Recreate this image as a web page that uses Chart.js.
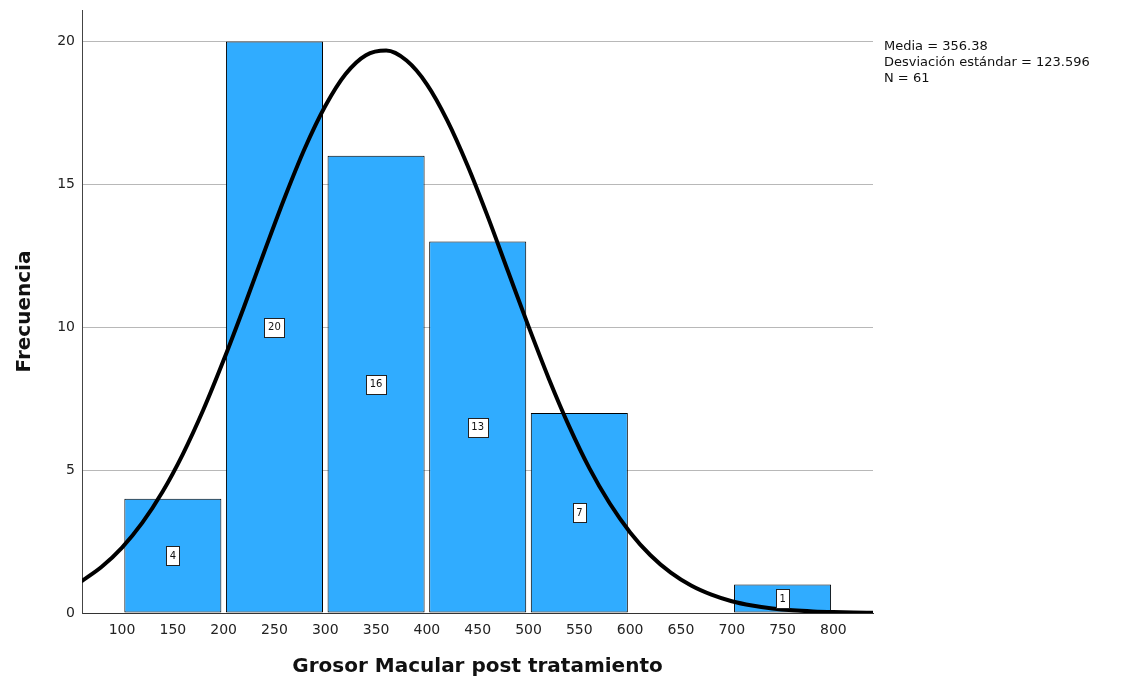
<!DOCTYPE html>
<html>
<head>
<meta charset="utf-8">
<script src="https://cdn.jsdelivr.net/npm/chart.js@4"></script>
<style>
  html, body { margin: 0; padding: 0; background: #fff; }
  #wrap { width: 1123px; height: 685px; }
</style>
</head>
<body>
<div id="wrap"><canvas id="histChart" width="1123" height="685"></canvas></div>
<script>
// Datos del histograma (centro de cada intervalo y frecuencia)
const binCenters = [150, 250, 350, 450, 550, 650, 750];
const frecuencias = [4, 20, 16, 13, 7, 0, 1];

// Curva normal
const curvaX = [60, 80, 100, 120, 140, 160, 180, 200, 220, 240, 260, 280, 300, 320, 340, 360, 380, 400,
  420, 440, 460, 480, 500, 520, 540, 560, 580, 600, 620, 640, 660, 680, 700, 720, 740, 760, 780, 800, 820, 840];
const curvaY = [1.11, 1.62, 2.29, 3.16, 4.25, 5.57, 7.11, 8.85, 10.71, 12.64, 14.53, 16.27, 17.74, 18.86, 19.52, 19.68, 19.33, 18.50,
  17.24, 15.66, 13.86, 11.94, 10.03, 8.20, 6.53, 5.06, 3.83, 2.82, 2.02, 1.41, 0.96, 0.64, 0.41, 0.26, 0.16, 0.095, 0.055, 0.031, 0.017, 0.009];

// Marcas de los ejes
const xTicks = [100, 150, 200, 250, 300, 350, 400, 450, 500, 550, 600, 650, 700, 750, 800];
const yTicks = [0, 5, 10, 15, 20];

// Estadísticos
const estadisticos = ['Media = 356.38', 'Desviación estándar = 123.596', 'N = 61'];

const fuente = "'DejaVu Sans', sans-serif";

// Plugin: etiquetas de valor en las barras y texto de estadísticos
const etiquetasPlugin = {
  id: 'etiquetas',
  afterDatasetsDraw(chart) {
    const ctx = chart.ctx;
    const xs = chart.scales.x, ys = chart.scales.y;
    ctx.save();
    ctx.font = '10px ' + fuente;
    ctx.textAlign = 'center';
    ctx.textBaseline = 'middle';
    frecuencias.forEach((v, i) => {
      if (!v) return;
      const cx = xs.getPixelForValue(binCenters[i]);
      const cy = ys.getPixelForValue(v / 2);
      const txt = String(v);
      const w = Math.round(ctx.measureText(txt).width + 7);
      const h = 19;
      const bx = Math.round(cx - w / 2) + 0.5, by = Math.round(cy - h / 2) + 0.5;
      ctx.fillStyle = '#fff';
      ctx.fillRect(bx, by, w, h);
      ctx.strokeStyle = '#222';
      ctx.lineWidth = 1;
      ctx.strokeRect(bx, by, w, h);
      ctx.fillStyle = '#111';
      ctx.fillText(txt, cx, cy + 0.5);
    });
    ctx.restore();
  },
  afterDraw(chart) {
    const ctx = chart.ctx;
    const area = chart.chartArea;
    ctx.save();
    ctx.font = '13px ' + fuente;
    ctx.fillStyle = '#111';
    ctx.textAlign = 'left';
    ctx.textBaseline = 'middle';
    estadisticos.forEach((t, i) => {
      ctx.fillText(t, area.right + 11, 47 + i * 16);
    });
    ctx.restore();
  }
};

const ctx = document.getElementById('histChart').getContext('2d');
new Chart(ctx, {
  type: 'bar',
  data: {
    datasets: [
      {
        type: 'line',
        label: 'Normal',
        data: curvaX.map((x, i) => ({ x: x, y: curvaY[i] })),
        borderColor: '#000',
        borderWidth: 4,
        pointRadius: 0,
        cubicInterpolationMode: 'monotone',
        fill: false,
        order: 0
      },
      {
        label: 'Frecuencia',
        data: binCenters.map((x, i) => ({ x: x, y: frecuencias[i] || null })),
        backgroundColor: '#30acff',
        borderColor: '#000',
        borderWidth: 1,
        borderSkipped: false,
        // el ancho mínimo lo marca la separación de ticks (50), el intervalo es 100
        barPercentage: 1.91,
        categoryPercentage: 1,
        grouped: false,
        order: 1
      }
    ]
  },
  options: {
    responsive: false,
    animation: false,
    layout: { padding: { top: 10, right: 250, left: 0, bottom: 0 } },
    plugins: {
      legend: { display: false },
      tooltip: { enabled: false }
    },
    scales: {
      x: {
        type: 'linear',
        offset: false,
        min: 60.6,
        max: 839,
        afterBuildTicks(scale) { scale.ticks = xTicks.map(v => ({ value: v })); },
        afterFit(scale) { scale.height = 72; },
        grid: { display: false, drawTicks: false },
        border: { display: true, color: '#333', width: 1 },
        ticks: {
          padding: 9,
          color: '#222',
          font: { family: fuente, size: 14 },
          maxRotation: 0,
          autoSkip: false
        },
        title: {
          display: true,
          text: 'Grosor Macular post tratamiento',
          color: '#111',
          font: { family: fuente, size: 20, weight: 'bold' },
          padding: { top: 6, bottom: 6 }
        }
      },
      y: {
        min: 0,
        max: 21.1,
        afterBuildTicks(scale) { scale.ticks = yTicks.map(v => ({ value: v })); },
        afterFit(scale) {
          scale.width = 82;
          scale.paddingTop = 0;
          scale.paddingBottom = 0;
        },
        grid: {
          drawTicks: false,
          color: ctx => ctx.tick && ctx.tick.value === 0 ? 'rgba(0,0,0,0)' : '#b8b8b8',
          lineWidth: 1
        },
        border: { display: true, color: '#444', width: 1 },
        ticks: {
          padding: 7,
          color: '#222',
          font: { family: fuente, size: 14 }
        },
        title: {
          display: true,
          text: 'Frecuencia',
          color: '#111',
          font: { family: fuente, size: 20, weight: 'bold' },
          padding: { top: 13, bottom: 13 }
        }
      }
    }
  },
  plugins: [etiquetasPlugin]
});
</script>
</body>
</html>
